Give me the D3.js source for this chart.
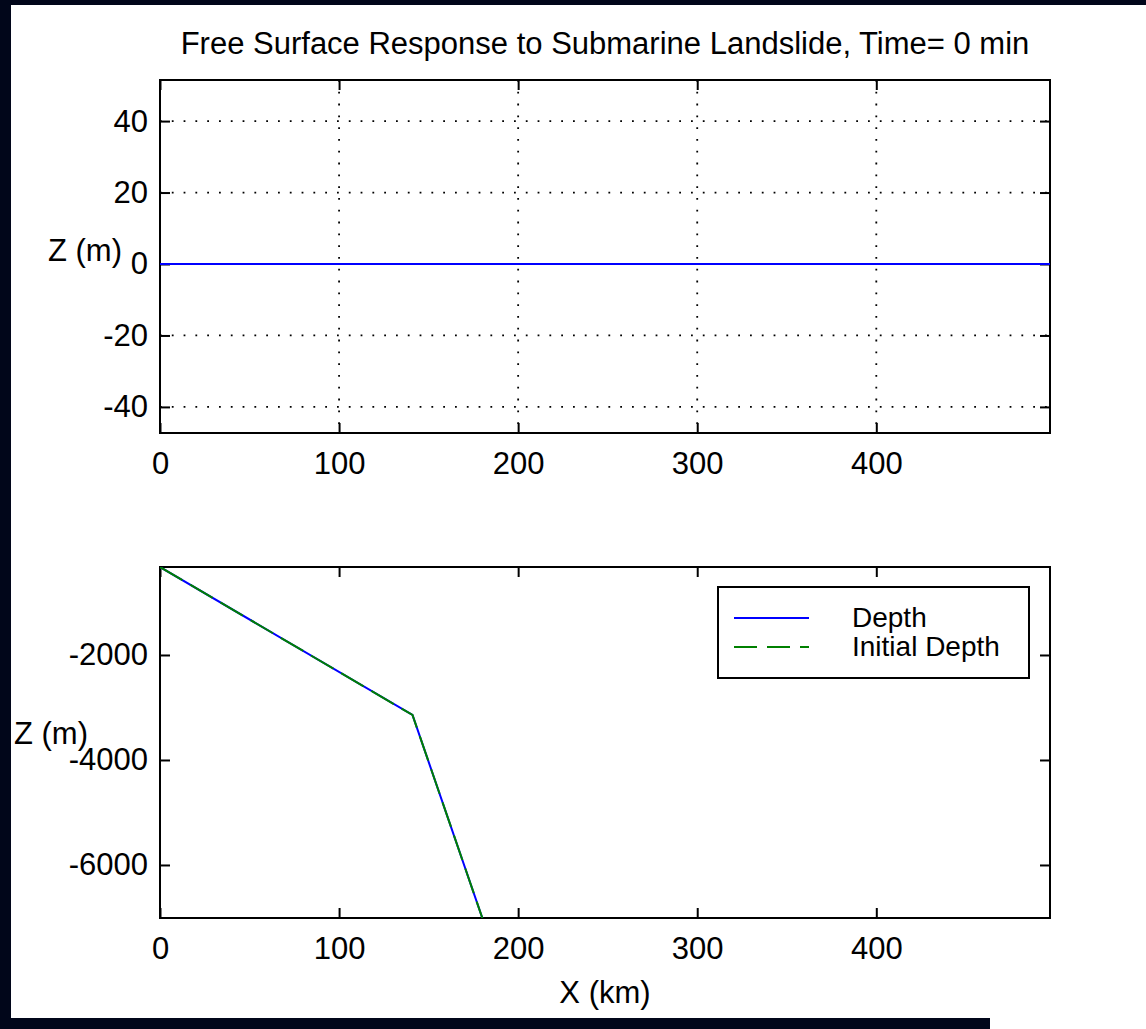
<!DOCTYPE html>
<html lang="en">
  <head>
    <meta charset="UTF-8" />
    <title>Free Surface Response to Submarine Landslide</title>
    <script src="https://cdn.jsdelivr.net/npm/d3@7"></script>
    <style>
      body { margin: 0; background: #01061a; }
      text { font-family: 'Liberation Sans', Arial, sans-serif; }
    </style>
  </head>
  <body>
    <div id="container"></div>
    <script>
      // data
      const titleText = 'Free Surface Response to Submarine Landslide, Time= 0 min'
      const xTicks = [0, 100, 200, 300, 400]
      const surfaceYTicks = [-40, -20, 0, 20, 40]
      const depthYTicks = [-6000, -4000, -2000]

      const surfaceX = [0, 100, 200, 300, 400, 497]
      const surfaceZ = [0, 0, 0, 0, 0, 0]

      const depthX = [0, 141, 180]
      const depthZ = [-324, -3143, -7010]
      const initDepthX = [0, 141, 180]
      const initDepthZ = [-324, -3143, -7010]

      const legendLabels = ['Depth', 'Initial Depth']

      const width = 1146
      const height = 1029
      const fontSize = 31

      const svg = d3.create('svg')
        .attr('width', width)
        .attr('height', height)
        .attr('viewBox', [0, 0, width, height])

      // dark frame, white figure
      svg.append('rect').attr('width', width).attr('height', height).attr('fill', '#01061a')
      svg.append('rect')
        .attr('x', 11).attr('y', 5)
        .attr('width', width - 11).attr('height', height - 5)
        .attr('fill', '#fff')
      svg.append('rect')
        .attr('x', 0).attr('y', 1018)
        .attr('width', 990).attr('height', 11)
        .attr('fill', '#01061a')

      const left = 160, right = 1050

      function panel(top, bottom, yDomain, yTicks, grid, id) {
        const x = d3.scaleLinear().domain([0, 497]).range([left, right])
        const y = d3.scaleLinear().domain(yDomain).range([bottom, top])
        const g = svg.append('g').attr('id', id)

        g.append('clipPath').attr('id', id + '-clip')
          .append('rect')
          .attr('x', left).attr('y', top)
          .attr('width', right - left).attr('height', bottom - top)

        if (grid) {
          g.append('g')
            .selectAll('line')
            .data(xTicks.filter(d => d > 0))
            .join('line')
            .attr('x1', d => x(d)).attr('x2', d => x(d))
            .attr('y1', top).attr('y2', bottom)
          g.append('g')
            .selectAll('line')
            .data(yTicks)
            .join('line')
            .attr('x1', left).attr('x2', right)
            .attr('y1', d => y(d)).attr('y2', d => y(d))
          g.selectAll('line')
            .attr('stroke', '#000')
            .attr('stroke-width', 1.8)
            .attr('stroke-dasharray', '1.8 10')
        }

        const axes = [
          [d3.axisBottom(x), `translate(0,${bottom})`, true],
          [d3.axisTop(x), `translate(0,${top})`, false],
          [d3.axisLeft(y).tickValues(yTicks), `translate(${left},0)`, true],
          [d3.axisRight(y).tickValues(yTicks), `translate(${right},0)`, false]
        ]
        axes.forEach(([ax, tr, labels], i) => {
          if (i < 2) ax.tickValues(xTicks)
          ax.tickSizeInner(-10).tickSizeOuter(0)
            .tickPadding(i < 2 ? 19 : 12)
            .tickFormat(labels ? d => String(d) : '')
          const a = g.append('g').attr('transform', tr).call(ax)
          a.select('.domain').remove()
          a.selectAll('line').attr('stroke', '#000').attr('stroke-width', 2)
          a.selectAll('text')
            .attr('fill', '#000')
            .style('font-size', fontSize + 'px')
            .style('font-family', "'Liberation Sans', Arial, sans-serif")
        })

        g.append('rect')
          .attr('x', left).attr('y', top)
          .attr('width', right - left).attr('height', bottom - top)
          .attr('fill', 'none')
          .attr('stroke', '#000')
          .attr('stroke-width', 2)

        return { x, y, g, clip: `url(#${id}-clip)` }
      }

      // title
      svg.append('text')
        .attr('x', (left + right) / 2)
        .attr('y', 54)
        .attr('text-anchor', 'middle')
        .style('font-size', fontSize + 'px')
        .text(titleText)

      // top panel: free surface
      const p1 = panel(80, 433, [-47.3, 51.5], surfaceYTicks, true, 'surface')
      p1.g.append('path')
        .datum(d3.zip(surfaceX, surfaceZ))
        .attr('clip-path', p1.clip)
        .attr('fill', 'none')
        .attr('stroke', '#0000ff')
        .attr('stroke-width', 2)
        .attr('d', d3.line().x(d => p1.x(d[0])).y(d => p1.y(d[1])))
      svg.append('text')
        .attr('x', 122).attr('y', 261)
        .attr('text-anchor', 'end')
        .style('font-size', fontSize + 'px')
        .text('Z (m)')

      // bottom panel: bathymetry
      const p2 = panel(567, 918, [-7010, -324], depthYTicks, false, 'depth')
      const line2 = d3.line().x(d => p2.x(d[0])).y(d => p2.y(d[1]))
      p2.g.append('path')
        .datum(d3.zip(depthX, depthZ))
        .attr('clip-path', p2.clip)
        .attr('fill', 'none')
        .attr('stroke', '#0000ff')
        .attr('stroke-width', 2)
        .attr('d', line2)
      p2.g.append('path')
        .datum(d3.zip(initDepthX, initDepthZ))
        .attr('clip-path', p2.clip)
        .attr('fill', 'none')
        .attr('stroke', '#008000')
        .attr('stroke-width', 2)
        .attr('stroke-dasharray', '26 9')
        .attr('d', line2)
      svg.append('text')
        .attr('x', 88).attr('y', 744)
        .attr('text-anchor', 'end')
        .style('font-size', fontSize + 'px')
        .text('Z (m)')
      svg.append('text')
        .attr('x', (left + right) / 2).attr('y', 1003)
        .attr('text-anchor', 'middle')
        .style('font-size', fontSize + 'px')
        .text('X (km)')

      // legend
      const lg = svg.append('g').attr('id', 'legend')
      lg.append('rect')
        .attr('x', 718).attr('y', 587)
        .attr('width', 311).attr('height', 91)
        .attr('fill', '#fff')
        .attr('stroke', '#000')
        .attr('stroke-width', 2)
      const legendColors = ['#0000ff', '#008000']
      const legendDash = [null, '23 10']
      legendLabels.forEach((label, i) => {
        const ly = 618 + i * 29
        lg.append('line')
          .attr('x1', 734).attr('x2', 809)
          .attr('y1', ly).attr('y2', ly)
          .attr('stroke', legendColors[i])
          .attr('stroke-width', 2)
          .attr('stroke-dasharray', legendDash[i])
        lg.append('text')
          .attr('x', 852).attr('y', ly + 9)
          .style('font-size', '28px')
          .text(label)
      })

      container.append(svg.node())
    </script>
  </body>
</html>
